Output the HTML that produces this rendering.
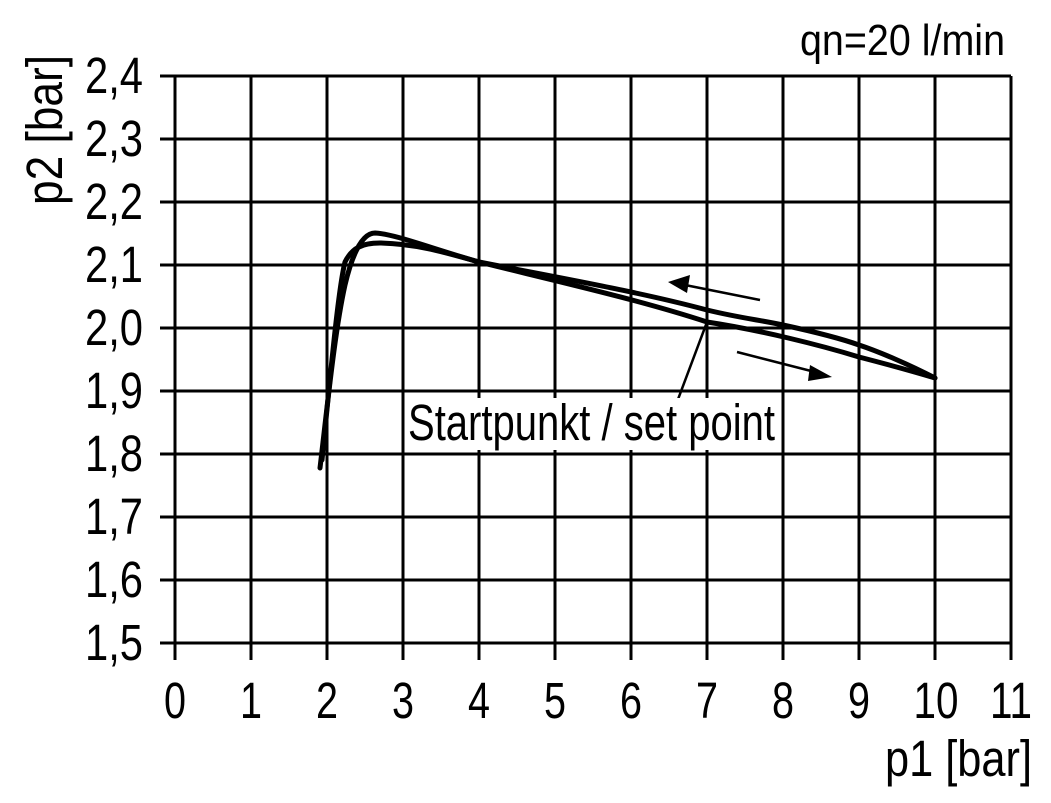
<!DOCTYPE html>
<html><head><style>body{margin:0;background:#fff}svg{display:block}text{font-family:"Liberation Sans",sans-serif;fill:#000}</style></head>
<body>
<svg width="1051" height="803" viewBox="0 0 1051 803">
<g stroke="#000" stroke-width="3" fill="none">
<path d="M175 76V660M251 76V660M327 76V660M403 76V660M479 76V660M555 76V660M631 76V660M707 76V660M783 76V660M859 76V660M935 76V660M1011 76V660"/>
<path d="M160 76H1011M160 139H1011M160 202H1011M160 265H1011M160 328H1011M160 391H1011M160 454H1011M160 517H1011M160 580H1011M160 643H1011"/>
</g>
<g stroke="#000" stroke-width="5" fill="none" stroke-linecap="round" stroke-linejoin="round">
<path d="M320 468 C328 400,335 330,345 285 C352 255,362 233,375 233 C395 234,430 248,479 262 C560 282,640 300,707 322 C760 330,820 345,859 357 C890 365,915 372,935 378"/>
<path d="M322 460 C330 380,338 290,345 262 C352 248,362 243,380 243 C420 244,450 254,479 262 C560 278,640 292,707 310 C740 318,760 320,783 325 C820 333,845 340,859 345 C880 352,910 365,935 378"/>
</g>
<g stroke="#000" stroke-width="2.5">
<line x1="707" y1="322" x2="677" y2="402"/>
<line x1="760" y1="300" x2="685" y2="285"/>
<line x1="737" y1="352" x2="815" y2="372"/>
</g>
<polygon points="668,282 690,275 687,293" fill="#000"/>
<polygon points="832,377 810,365 808,381" fill="#000"/>
<rect x="406" y="398" width="372" height="52" fill="#fff"/>
<text x="408" y="440" font-size="51" textLength="367" lengthAdjust="spacingAndGlyphs">Startpunkt / set point</text>
<g font-size="51" text-anchor="end">
<text x="143" y="93" textLength="58" lengthAdjust="spacingAndGlyphs">2,4</text>
<text x="143" y="156" textLength="58" lengthAdjust="spacingAndGlyphs">2,3</text>
<text x="143" y="219" textLength="58" lengthAdjust="spacingAndGlyphs">2,2</text>
<text x="143" y="282" textLength="58" lengthAdjust="spacingAndGlyphs">2,1</text>
<text x="143" y="345" textLength="58" lengthAdjust="spacingAndGlyphs">2,0</text>
<text x="143" y="408" textLength="58" lengthAdjust="spacingAndGlyphs">1,9</text>
<text x="143" y="471" textLength="58" lengthAdjust="spacingAndGlyphs">1,8</text>
<text x="143" y="534" textLength="58" lengthAdjust="spacingAndGlyphs">1,7</text>
<text x="143" y="597" textLength="58" lengthAdjust="spacingAndGlyphs">1,6</text>
<text x="143" y="660" textLength="58" lengthAdjust="spacingAndGlyphs">1,5</text>
</g>
<g font-size="51" text-anchor="middle">
<text x="175" y="718" textLength="22" lengthAdjust="spacingAndGlyphs">0</text><text x="251" y="718" textLength="22" lengthAdjust="spacingAndGlyphs">1</text><text x="327" y="718" textLength="22" lengthAdjust="spacingAndGlyphs">2</text><text x="403" y="718" textLength="22" lengthAdjust="spacingAndGlyphs">3</text><text x="479" y="718" textLength="22" lengthAdjust="spacingAndGlyphs">4</text><text x="555" y="718" textLength="22" lengthAdjust="spacingAndGlyphs">5</text><text x="631" y="718" textLength="22" lengthAdjust="spacingAndGlyphs">6</text><text x="707" y="718" textLength="22" lengthAdjust="spacingAndGlyphs">7</text><text x="783" y="718" textLength="22" lengthAdjust="spacingAndGlyphs">8</text><text x="859" y="718" textLength="22" lengthAdjust="spacingAndGlyphs">9</text><text x="936" y="718" textLength="45" lengthAdjust="spacingAndGlyphs">10</text><text x="1011" y="718" textLength="42" lengthAdjust="spacingAndGlyphs">11</text>
</g>
<text x="885" y="776" font-size="51" textLength="147" lengthAdjust="spacingAndGlyphs">p1 [bar]</text>
<text transform="translate(62,205) rotate(-90)" font-size="51" textLength="150" lengthAdjust="spacingAndGlyphs">p2 [bar]</text>
<text x="800" y="55" font-size="44" textLength="205" lengthAdjust="spacingAndGlyphs">qn=20 l/min</text>
</svg>
</body></html>
